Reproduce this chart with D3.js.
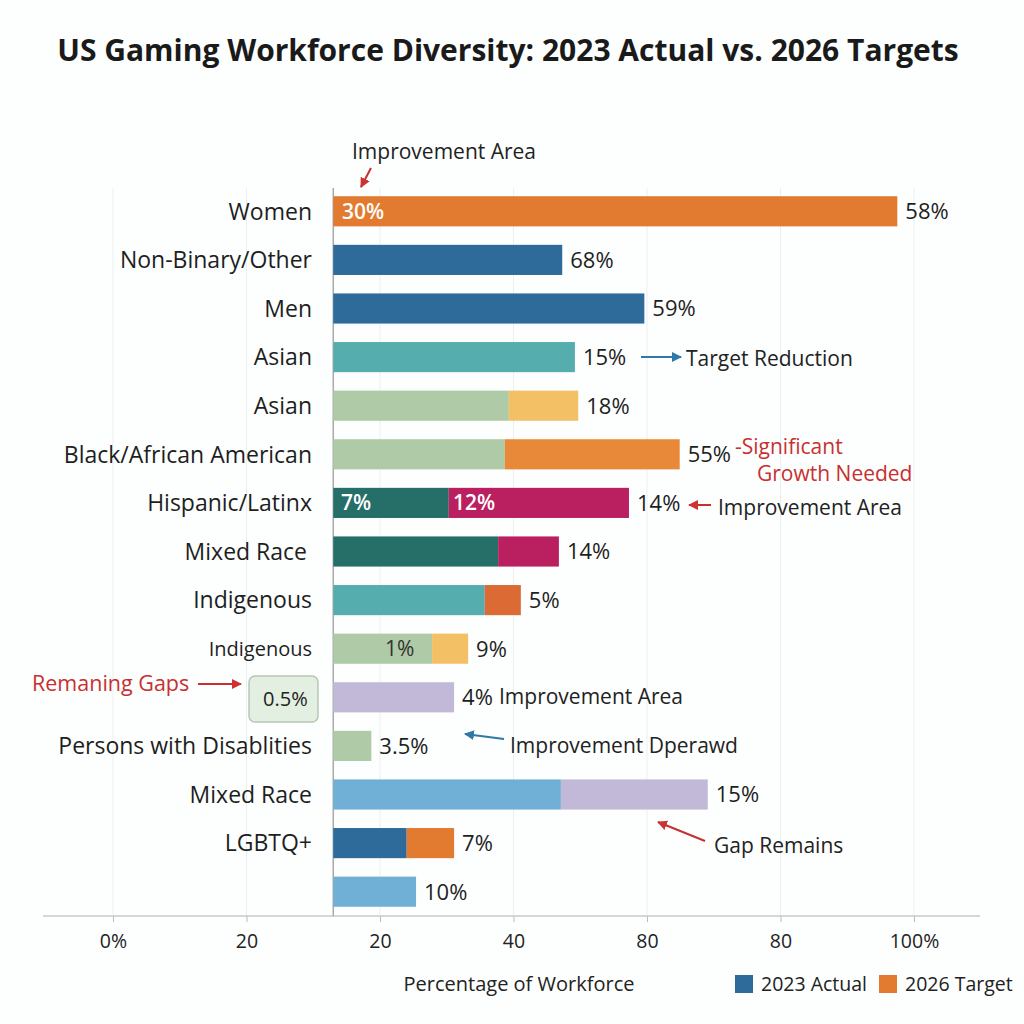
<!DOCTYPE html>
<meta charset="utf-8">
<style>
body { margin:0; background:#fff; }
svg text { font-family: "Open Sans", "Noto Sans", sans-serif; }
</style>
<script src="https://d3js.org/d3.v7.min.js"></script>
<body>
<script>

var width = 1024, height = 1024

// rows, top to bottom
var categories = ["Women","Non-Binary/Other","Men","Asian","Asian","Black/African American","Hispanic/Latinx","Mixed Race ","Indigenous","Indigenous","","Persons with Disablities","Mixed Race","LGBTQ+",""]
// end of first segment and second segment, on the (odd) axis scale
var firstEnd  = [117.5, 67.3, 79.6, 69.2, 59.3, 58.7, 50.3, 57.7, 55.7, 47.8, 51.1, 38.7, 67.1, 44.0, 45.4]
var secondEnd = [null, null, null, null, 69.7, 84.9, 77.3, 66.8, 61.1, 53.2, null, null, 89.1, 51.1, null]
var endLabels = ["58%","68%","59%","15%","18%","55%","14%","14%","5%","9%","4%","3.5%","15%","7%","10%"]
var barBase = 33
var tickValues = [0, 20, 40, 60, 80, 100, 120]
var tickLabels = ["0%","20","20","40","80","80","100%"]
var legendNames = ["2023 Actual","2026 Target"]

var C = {blue:"#2e6a9a", orange:"#e27a2f", teal:"#55adad", green:"#aecaa6", yellow:"#f4c066",
  orange2:"#e8893a", dteal:"#266e68", magenta:"#ba1f5f", ored:"#dc6a35", lav:"#c2b9d9", lblue:"#71b0d6"}
var firstCol  = [C.orange, C.blue, C.blue, C.teal, C.green, C.green, C.dteal, C.dteal, C.teal, C.green, C.lav, C.green, C.lblue, C.blue, C.lblue]
var secondCol = [null, null, null, null, C.yellow, C.orange2, C.magenta, C.magenta, C.ored, C.yellow, null, null, C.lav, C.orange, null]

var rowData = categories.map((c, i) => ({name:c, i:i, a:firstEnd[i], b:secondEnd[i], lab:endLabels[i]}))

var svg = d3.select("body").append("svg").attr("width", width).attr("height", height)
svg.append("rect").attr("width", width).attr("height", height).attr("fill", "#fdfefe")

var x = d3.scaleLinear().domain([0, 120]).range([113, 914])
var y = d3.scaleBand().domain(d3.range(categories.length)).range([187, 916]).paddingInner(0.38).paddingOuter(0.19)
var bh = y.bandwidth()
var cy = i => y(i) + bh / 2

svg.append("text").attr("x", 508).attr("y", 61).attr("text-anchor", "middle")
  .style("font-size", "30px").style("font-weight", "700").attr("fill", "#1a1a1a")
  .text("US Gaming Workforce Diversity: 2023 Actual vs. 2026 Targets")

// grid
svg.append("g").selectAll("line").data(tickValues).enter().append("line")
  .attr("x1", d => x(d)).attr("x2", d => x(d)).attr("y1", 188).attr("y2", 916)
  .attr("stroke", "#eceeef").attr("stroke-width", 1)

// axis
var axis = d3.axisBottom(x).tickValues(tickValues).tickFormat((d, i) => tickLabels[i]).tickSize(6).tickSizeOuter(0)
var ag = svg.append("g").attr("transform", "translate(0,916)").call(axis)
ag.select(".domain").remove()
ag.selectAll(".tick line").attr("stroke", "#bbb")
ag.selectAll(".tick text").attr("dy", "1.2em").style("font-size", "19.5px").attr("fill", "#222")
svg.append("line").attr("x1", 43).attr("x2", 980).attr("y1", 916).attr("y2", 916).attr("stroke", "#c8c8c8").attr("stroke-width", 1.5)
svg.append("line").attr("x1", x(barBase)).attr("x2", x(barBase)).attr("y1", 188).attr("y2", 916).attr("stroke", "#aaa").attr("stroke-width", 1.5)

// bars
var rows = svg.append("g").selectAll("g").data(rowData).enter().append("g")
rows.append("rect").attr("x", x(barBase)).attr("y", d => y(d.i)).attr("height", bh)
  .attr("width", d => x(d.a) - x(barBase)).attr("fill", d => firstCol[d.i])
rows.filter(d => d.b != null).append("rect")
  .attr("x", d => x(d.a)).attr("y", d => y(d.i)).attr("height", bh)
  .attr("width", d => x(d.b) - x(d.a)).attr("fill", d => secondCol[d.i])

rows.append("text").attr("x", d => x(d.b != null ? d.b : d.a) + 8)
  .attr("y", d => cy(d.i)).attr("dy", "0.36em").style("font-size", "22px").attr("fill", "#1e1e1e")
  .text(d => d.lab)

rows.append("text").attr("x", d => d.i == 7 ? 307 : 312).attr("y", d => cy(d.i)).attr("dy", "0.36em")
  .attr("text-anchor", "end").style("font-size", d => d.i == 9 ? "20px" : "23px").attr("fill", "#1e1e1e")
  .text(d => d.name)

// inside labels
function inside(t, i, xv, col, w) {
  svg.append("text").attr("x", xv).attr("y", cy(i)).attr("dy", "0.36em").style("font-size", "21px")
    .style("font-weight", w).attr("fill", col).text(t)
}
inside("30%", 0, 342, "#fff", 600)
inside("7%", 6, 341, "#fff", 600)
inside("12%", 6, 453, "#fff", 600)
inside("1%", 9, 385, "#333", 400)

// arrows
var defs = svg.append("defs")
function marker(id, col) {
  defs.append("marker").attr("id", id).attr("viewBox", "0 0 10 10").attr("refX", 9).attr("refY", 5)
    .attr("markerWidth", 5).attr("markerHeight", 5).attr("orient", "auto")
    .append("path").attr("d", "M0,0L10,5L0,10z").attr("fill", col)
}
marker("ar", "#cc3333"); marker("ab", "#2f78a8")
function arrow(x1, y1, x2, y2, id, col) {
  svg.append("line").attr("x1", x1).attr("y1", y1).attr("x2", x2).attr("y2", y2)
    .attr("stroke", col).attr("stroke-width", 2).attr("marker-end", "url(#" + id + ")")
}
function note(t, xv, yv, col, size) {
  svg.append("text").attr("x", xv).attr("y", yv).attr("dy", "0.36em").style("font-size", (size || 21) + "px")
    .attr("fill", col).text(t)
}
var red = "#c8302f", dark = "#222"

note("Improvement Area", 352, 151, dark)
arrow(371, 168, 361, 187, "ar", red)

arrow(641, 357, 681, 357, "ab", "#2f78a8")
note("Target Reduction", 686, 358, dark)

note("-Significant", 735, 446, red)
note("Growth Needed", 757, 473, red)

arrow(711, 505, 689, 505, "ar", red)
note("Improvement Area", 718, 507, dark)

note("Remaning Gaps", 32, 683, red, 21.5)
arrow(198, 684, 241, 684, "ar", red)
svg.append("rect").attr("x", 249).attr("y", 676).attr("width", 69).attr("height", 46).attr("rx", 6)
  .attr("fill", "#e3efe0").attr("stroke", "#b9c6b6").attr("stroke-width", 1.5)
note("0.5%", 263, 699, dark, 20)

note("Improvement Area", 499, 696, dark)

arrow(504, 739, 465, 734, "ab", "#2f78a8")
note("Improvement Dperawd", 510, 745, dark)

arrow(705, 841, 658, 822, "ar", red)
note("Gap Remains", 714, 845, dark)

// footer
svg.append("text").attr("x", 519).attr("y", 984).attr("dy", "0.36em").attr("text-anchor", "middle")
  .style("font-size", "20px").attr("fill", "#222").text("Percentage of Workforce")
var lg = svg.append("g").selectAll("g").data(legendNames).enter().append("g")
  .attr("transform", (d, i) => "translate(" + (735 + i * 144) + ",975)")
lg.append("rect").attr("width", 18).attr("height", 18).attr("fill", (d, i) => i ? C.orange : C.blue)
lg.append("text").attr("x", 26).attr("y", 9).attr("dy", "0.36em").style("font-size", "19.5px").attr("fill", "#222").text(d => d)

</script>
</body>
